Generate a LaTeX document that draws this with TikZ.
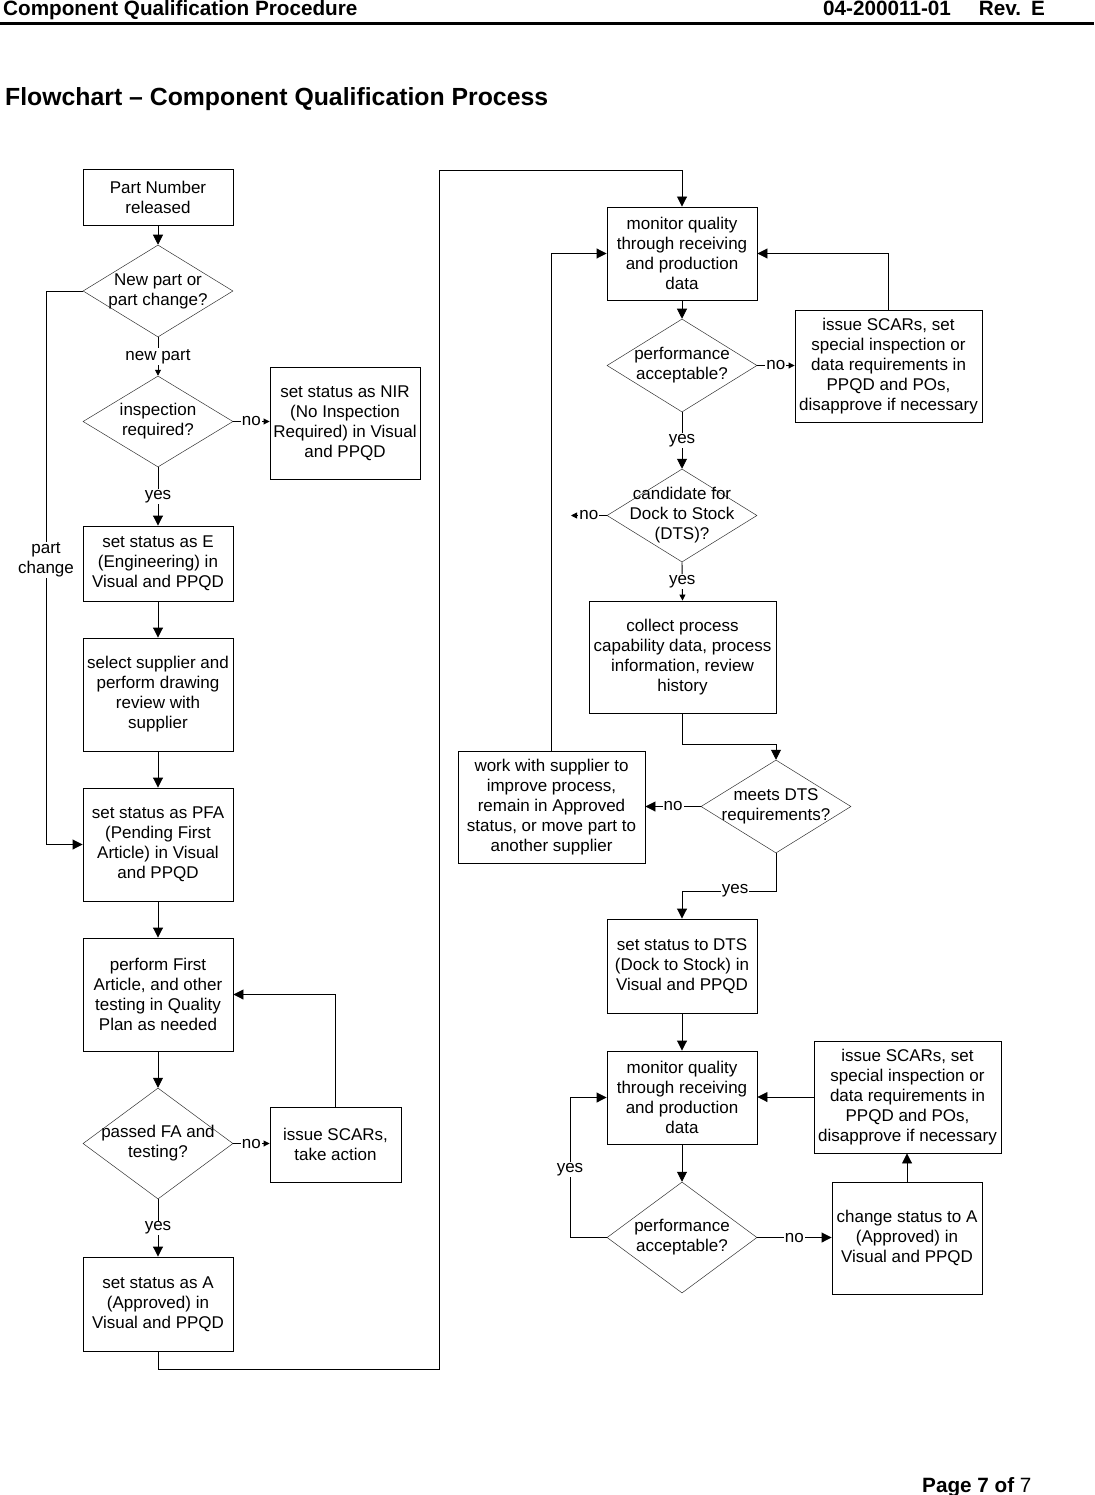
\documentclass[tikz,border=0pt]{standalone}
\usepackage{fontspec}
\setmainfont{Liberation Sans}
\usetikzlibrary{shapes.geometric,arrows.meta}
\newcommand\flowfont{\fontsize{17}{20}\selectfont}
\tikzset{
  pbox/.style 2 args={draw,line width=0.9pt,align=center,inner sep=0pt,minimum width=#1,minimum height=#2,font=\flowfont},
  dec/.style 2 args={diamond,draw=black!80,line width=0.5pt,inner sep=0pt,minimum width=#1,minimum height=#2},
  dtext/.style={align=center,inner sep=0pt,font=\flowfont},
  lbl/.style={fill=white,inner sep=1pt,align=center,font=\flowfont},
  ln/.style={line width=0.9pt},
  arr/.style={ln,-{Triangle[length=10pt,width=10pt]}},
  sarr/.style={ln,-{Triangle[length=6pt,width=6pt]}}
}
\begin{document}
\begin{tikzpicture}[x=1pt,y=-1pt]
  \useasboundingbox (0,0) rectangle (1094,1495);
  \node[anchor=base west,inner sep=0pt,font=\fontsize{20.7}{24}\selectfont\bfseries] (hdl) at (3,16) {Component Qualification Procedure};
  \node[anchor=base west,inner sep=0pt,font=\fontsize{20.7}{24}\selectfont\bfseries] (hdr) at (823,16) {04-200011-01\hspace{28pt}Rev.\hspace{10pt}E};
  \draw[line width=3pt] (0,23.5) -- (1094,23.5);
  \node[anchor=base west,inner sep=0pt,font=\fontsize{24.8}{28}\selectfont\bfseries] (title) at (5,106) {Flowchart -- Component Qualification Process};
  \node[anchor=base west,inner sep=0pt,font=\fontsize{20.7}{24}\selectfont] (page) at (922,1492) {\bfseries Page 7 of \mdseries 7};

  \node[pbox={150}{56}] (pn) at (158,197) {Part Number\\released};
  \node[dec={150}{92},label={[dtext]center:{New part or\\part change?}}] (newpart) at (158,291) {};
  \node[dec={150}{91},label={[dtext]center:{inspection\\required?}}] (inspect) at (158,421.5) {};
  \node[pbox={150}{112}] (nir) at (345,423) {set status as NIR\\(No Inspection\\Required) in Visual\\and PPQD};
  \node[pbox={150}{75}] (eng) at (158,563.5) {set status as E\\(Engineering) in\\Visual and PPQD};
  \node[pbox={150}{113}] (supp) at (158,694.5) {select supplier and\\perform drawing\\review with\\supplier};
  \node[pbox={150}{113}] (pfa) at (158,844.5) {set status as PFA\\(Pending First\\Article) in Visual\\and PPQD};
  \node[pbox={150}{113}] (fa) at (158,994.5) {perform First\\Article, and other\\testing in Quality\\Plan as needed};
  \node[dec={150}{111},label={[dtext]center:{passed FA and\\testing?}}] (passed) at (158,1143.5) {};
  \node[pbox={131}{75}] (scar0) at (335.5,1144.5) {issue SCARs,\\take action};
  \node[pbox={150}{94}] (appr) at (158,1304) {set status as A\\(Approved) in\\Visual and PPQD};

  \node[pbox={150}{93}] (mon1) at (682,253.5) {monitor quality\\through receiving\\and production\\data};
  \node[dec={150}{93},label={[dtext]center:{performance\\acceptable?}}] (perf1) at (682,365.5) {};
  \node[pbox={187}{112}] (scar1) at (888.5,366) {issue SCARs, set\\special inspection or\\data requirements in\\PPQD and POs,\\disapprove if necessary};
  \node[dec={150}{93},label={[dtext]center:{candidate for\\Dock to Stock\\(DTS)?}}] (cand) at (682,515.5) {};
  \node[pbox={187}{112}] (collect) at (682.5,657) {collect process\\capability data, process\\information, review\\history};
  \node[dec={150}{93},label={[dtext]center:{meets DTS\\requirements?}}] (meets) at (776,806.5) {};
  \node[pbox={187}{112}] (work) at (551.5,807) {work with supplier to\\improve process,\\remain in Approved\\status, or move part to\\another supplier};
  \node[pbox={150}{94}] (dts) at (682,966) {set status to DTS\\(Dock to Stock) in\\Visual and PPQD};
  \node[pbox={150}{93}] (mon2) at (682,1097.5) {monitor quality\\through receiving\\and production\\data};
  \node[pbox={187}{112}] (scar2) at (907.5,1097) {issue SCARs, set\\special inspection or\\data requirements in\\PPQD and POs,\\disapprove if necessary};
  \node[dec={150}{111},label={[dtext]center:{performance\\acceptable?}}] (perf2) at (682,1237.5) {};
  \node[pbox={150}{112}] (chg) at (907,1238) {change status to A\\(Approved) in\\Visual and PPQD};

  \coordinate (pcl) at (46,291);
  \coordinate (lowl) at (439,1369);
  \coordinate (lowt) at (439,170);
  \coordinate (candno) at (571,515.5);
  \coordinate (colj) at (776,744);
  \coordinate (meetj) at (776,891);
  \coordinate (yesl) at (570,1237.5);

  \foreach \a/\b in {pn/newpart,eng/supp,supp/pfa,pfa/fa,fa/passed,mon1/perf1,dts/mon2,mon2/perf2}
    \draw[arr] (\a.south) -- (\b.north);
  \draw[sarr] (newpart.south) -- node[lbl]{new part} (inspect.north);
  \draw[sarr] (inspect.east) -- node[lbl]{no} (inspect.east -| nir.west);
  \draw[arr] (inspect.south) -- node[lbl]{yes} (eng.north);
  \draw[arr] (newpart.west) -- (pcl) |- node[lbl,pos=0.243]{part\\change} (pfa.west);
  \draw[sarr] (passed.east) -- node[lbl]{no} (passed.east -| scar0.west);
  \draw[arr] (scar0.north) |- (fa.east);
  \draw[arr] (passed.south) -- node[lbl]{yes} (appr.north);
  \draw[arr] (appr.south) |- (lowl) -- (lowt) -| (mon1.north);

  \draw[sarr] (perf1.east) -- node[lbl]{no} (perf1.east -| scar1.west);
  \draw[arr] (scar1.north) |- (mon1.east);
  \draw[arr] (perf1.south) -- node[lbl]{yes} (cand.north);
  \draw[sarr] (cand.west) -- node[lbl]{no} (candno);
  \draw[sarr] (cand.south) -- node[lbl]{yes} (collect.north);
  \draw[arr] (collect.south) |- (colj) -- (meets.north);
  \draw[arr] (meets.west) -- node[lbl]{no} (meets.west -| work.east);
  \draw[arr] (work.north) |- (mon1.west);
  \draw[arr] (meets.south) -- (meetj) -| node[lbl,pos=0.218]{yes} (dts.north);
  \draw[arr] (scar2.west) -- (scar2.west -| mon2.east);
  \draw[arr] (perf2.east) -- node[lbl]{no} (perf2.east -| chg.west);
  \draw[arr] (chg.north) -- (chg.north |- scar2.south);
  \draw[arr] (perf2.west) -- (yesl) |- node[lbl,pos=0.243]{yes} (mon2.west);
\end{tikzpicture}
\end{document}
